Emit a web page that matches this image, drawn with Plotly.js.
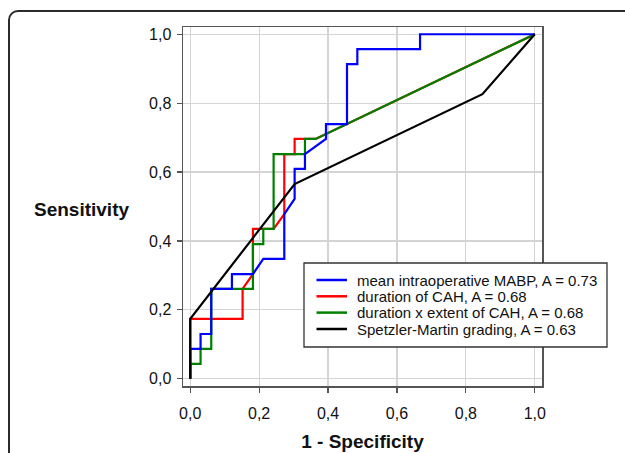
<!DOCTYPE html>
<html>
<head>
<meta charset="utf-8">
<script src="https://cdn.plot.ly/plotly-3.0.1.min.js"></script>
<style>
  html, body { margin: 0; padding: 0; width: 625px; height: 453px; overflow: hidden; background: #fff; }
  #chart { position: absolute; left: 0; top: 0; width: 625px; height: 453px; }
  #frame { position: absolute; left: 8px; top: 10px; width: 800px; height: 600px;
           border: 2px solid #2b2b2b; border-top-left-radius: 10px; pointer-events: none; }
</style>
</head>
<body>
<div id="chart"></div>
<div id="frame"></div>
<script>
// ---- data ----
const seriesNames = [
  "mean intraoperative MABP, A = 0.73",
  "duration of CAH, A = 0.68",
  "duration x extent of CAH, A = 0.68",
  "Spetzler-Martin grading, A = 0.63"
];
const seriesColors = ["#0000ff", "#ff0000", "#008000", "#000000"];

const mabpX = [0,0,0.030,0.030,0.061,0.061,0.121,0.121,0.182,0.212,0.273,0.273,0.303,0.303,0.333,0.333,0.394,0.394,0.455,0.455,0.485,0.485,0.667,0.667,1];
const mabpY = [0,0.087,0.087,0.130,0.130,0.261,0.261,0.304,0.304,0.348,0.348,0.478,0.522,0.609,0.609,0.652,0.696,0.739,0.739,0.913,0.913,0.957,0.957,1,1];

const durX = [0,0,0.152,0.152,0.182,0.182,0.242,0.273,0.273,0.303,0.303,0.364,1];
const durY = [0,0.174,0.174,0.261,0.304,0.435,0.435,0.478,0.652,0.652,0.696,0.696,1];

const durExtX = [0,0,0.030,0.030,0.061,0.061,0.182,0.182,0.212,0.212,0.242,0.242,0.333,0.333,0.364,1];
const durExtY = [0,0.043,0.043,0.087,0.087,0.261,0.261,0.391,0.391,0.435,0.435,0.652,0.652,0.696,0.696,1];

const smX = [0,0,0.303,0.848,1];
const smY = [0,0.174,0.565,0.826,1];

const tickVals = [0,0.2,0.4,0.6,0.8,1.0];
const tickText = ["0,0","0,2","0,4","0,6","0,8","1,0"];
const xTitle = "1 - Specificity";
const yTitle = "Sensitivity";

// ---- layout geometry ----
const W = 625, H = 453, ML = 183, MR = 83, MT = 27, MB = 67;
const PW = W - ML - MR, PH = H - MT - MB;
const px = p => (p - ML) / PW;
const py = p => (H - MB - p) / PH;
const FONT = "Liberation Sans, Arial, sans-serif";

function tr(x, y, i, name) {
  return { x: x, y: y, type: "scatter", mode: "lines", name: name,
           line: { color: seriesColors[i], width: 2.2 }, showlegend: false, hoverinfo: "skip" };
}
// draw order: red, green, blue, black (blue over green, black on top)
const data = [
  tr(durX, durY, 1, seriesNames[1]),
  tr(durExtX, durExtY, 2, seriesNames[2]),
  tr(mabpX, mabpY, 0, seriesNames[0]),
  tr(smX, smY, 3, seriesNames[3])
];

// manual legend (to match compact row spacing)
const legBox = { x0: 304, x1: 607, y0: 263, y1: 347 };
const rowY = [280, 296.3, 312.6, 329];
const shapes = [{
  type: "rect", xref: "paper", yref: "paper",
  x0: px(legBox.x0), x1: px(legBox.x1), y0: py(legBox.y1), y1: py(legBox.y0),
  line: { color: "#333", width: 1.3 }, fillcolor: "#fff", layer: "above"
}];
const annotations = [];
seriesNames.forEach((n, i) => {
  shapes.push({ type: "line", xref: "paper", yref: "paper",
    x0: px(316.5), x1: px(347), y0: py(rowY[i]), y1: py(rowY[i]),
    line: { color: seriesColors[i], width: 2.5 }, layer: "above" });
  annotations.push({ xref: "paper", yref: "paper", x: px(354.5), y: py(rowY[i]),
    xanchor: "left", yanchor: "middle", showarrow: false, text: n,
    font: { family: FONT, size: 15, color: "#111" } });
});
annotations.push({ xref: "paper", yref: "paper", x: px(82), y: py(209),
  xanchor: "center", yanchor: "middle", showarrow: false,
  text: "<b>" + yTitle + "</b>", font: { family: FONT, size: 19, color: "#111" } });

const axisCommon = {
  tickvals: tickVals, ticktext: tickText,
  showline: true, mirror: true, linecolor: "#555", linewidth: 1.5,
  showgrid: true, gridcolor: "#d4d4d4", gridwidth: 1.2, zeroline: false,
  ticks: "outside", ticklen: 5, tickcolor: "#555", tickwidth: 1.2,
  tickfont: { family: FONT, size: 16, color: "#111" },
  range: [-0.021, 1.021], fixedrange: true
};

const layout = {
  width: W, height: H,
  margin: { l: ML, r: MR, t: MT, b: MB, pad: 0 },
  paper_bgcolor: "#fff", plot_bgcolor: "#fff",
  showlegend: false,
  xaxis: Object.assign({}, axisCommon, {
    ticklabelstandoff: 7,
    title: { text: "<b>" + xTitle + "</b>", font: { family: FONT, size: 19, color: "#111" }, standoff: 14 }
  }),
  yaxis: Object.assign({}, axisCommon, { ticklabelstandoff: 2 }),
  shapes: shapes,
  annotations: annotations
};

Plotly.newPlot("chart", data, layout, { displayModeBar: false, staticPlot: true });
</script>
</body>
</html>
